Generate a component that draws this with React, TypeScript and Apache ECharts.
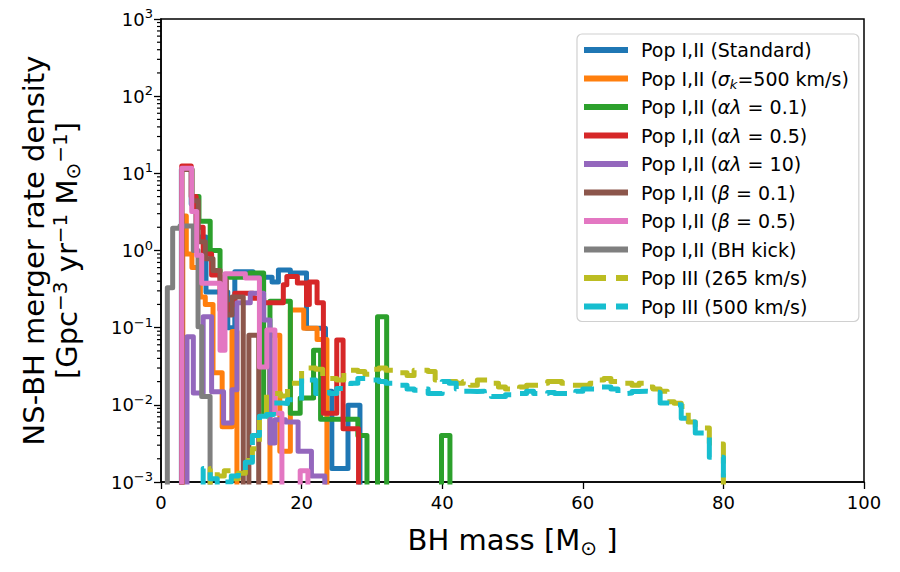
import React, { useEffect, useRef } from "react";
import * as echarts from "echarts";

const FONT = "'DejaVu Sans', sans-serif";
const FLOOR = 1e-6;

// ---- names / colours (legend order) ----
const seriesNames = [
  "Pop I,II (Standard)",
  "Pop I,II (sigma=500 km/s)",
  "Pop I,II (al=0.1)",
  "Pop I,II (al=0.5)",
  "Pop I,II (al=10)",
  "Pop I,II (beta=0.1)",
  "Pop I,II (beta=0.5)",
  "Pop I,II (BH kick)",
  "Pop III (265 km/s)",
  "Pop III (500 km/s)",
];
const legendLabels = [
  "Pop I,II (Standard)",
  "Pop I,II ({i|σ}{sub|k}=500 km/s)",
  "Pop I,II ({i|αλ} = 0.1)",
  "Pop I,II ({i|αλ} = 0.5)",
  "Pop I,II ({i|αλ} = 10)",
  "Pop I,II ({i|β} = 0.1)",
  "Pop I,II ({i|β} = 0.5)",
  "Pop I,II (BH kick)",
  "Pop III (265 km/s)",
  "Pop III (500 km/s)",
];
const colors = [
  "#1f77b4", "#ff7f0e", "#2ca02c", "#d62728", "#9467bd",
  "#8c564b", "#e377c2", "#7f7f7f", "#bcbd22", "#17becf",
];

// ---- histogram bin edges (BH mass, Msun) and heights (Gpc^-3 yr^-1 Msun^-1) ----
const standardEdges = [2.9, 4.3, 5.0, 6.4, 9.5, 10.5, 13.1, 15.8, 16.7, 18.4, 20.7, 23.4, 24.3, 26.6, 28.3];
const standardValues = [11.2, 4.0, 1.5, 0.29, 0.1, 0.53, 0.45, 0.39, 0.56, 0.51, 0.098, 0.015, 0.0015, 0.0099];

const sigmaEdges = [3.1, 3.6, 4.4, 5.6, 6.3, 7.4, 8.7, 10.1, 10.8, 15.5, 16.9, 18.4, 20.3, 22.2, 23.6];
const sigmaValues = [2.8, 0.9, 0.6, 0.25, 0.2, 0.026, 0.0052, 0.089, 0, 0.08, 0.0025, 0.17, 0.098, 0.07];

const alpha01Edges = [2.95, 4.4, 5.4, 7.0, 8.4, 12.6, 14.6, 15.5, 18.4, 19.8, 21.7, 22.7, 28.0, 29.3, 30.8, 32.1, 39.9, 41.1];
const alpha01Values = [11.2, 5.0, 2.4, 1.0, 0.45, 0.51, 0.0075, 0.22, 0.0078, 0.0123, 0.051, 0.0065, 0.004, 0, 0.139, 0, 0.004];

const alpha05Edges = [2.95, 4.3, 5.0, 6.0, 7.2, 8.4, 9.8, 10.5, 13.1, 14.6, 17.4, 17.9, 19.4, 20.7, 21.1, 22.2, 23.1, 25.0, 25.9, 28.1];
const alpha05Values = [12.4, 5.0, 2.0, 0.9, 0.48, 0.17, 0.2, 0.28, 0.24, 0.21, 0.36, 0.46, 0.38, 0.2, 0.39, 0.21, 0.0078, 0.069, 0.0049];

const alpha10Edges = [3.7, 4.6, 6.0, 7.2, 8.9, 10.1, 10.8, 12.7, 14.6, 15.5, 16.2, 17.7, 19.5, 21.4, 23.3];
const alpha10Values = [0.076, 0.0142, 0.139, 0.0148, 0.0058, 0.0157, 0.21, 0.28, 0.126, 0.0032, 0.0064, 0.006, 0.0025, 0.0012];

const beta01Edges = [2.95, 4.4, 5.3, 6.3, 7.4, 8.4, 9.3, 10.1, 11.7, 12.5, 13.9];
const beta01Values = [11.2, 4.4, 1.3, 0.78, 0.55, 0.41, 0.146, 0.25, 0, 0.08];

const beta05Edges = [2.95, 4.37, 5.08, 5.79, 8.4, 9.1, 12.0, 14.0, 15.05, 16.2, 17.2, 19.8, 20.9];
const beta05Values = [11.6, 3.2, 0.87, 0.375, 0.051, 0.5, 0.44, 0.031, 0.093, 0.0078, 0, 0.0014];

const kickEdges = [0.9, 1.66, 2.7, 4.6, 5.27, 5.79, 6.98];
const kickValues = [0.33, 1.94, 2.07, 1.0, 0.103, 0.0128];

// Pop III: 1 Msun bins
const popIII265Start = 7;
const popIII265Values = [
  0.0015, 0.0012, 0.0014, 0.0011, 0.0013, 0.0019, 0.0027, 0.0071, 0.014, 0.014,
  0.013, 0.019, 0.019, 0.030, 0.030, 0.029, 0.022, 0.022, 0.021, 0.026,
  0.028, 0.027, 0.025, 0.029, 0.030, 0.028, 0.026, 0.026, 0.024, 0.028,
  0.028, 0.027, 0.021, 0.020, 0.020, 0.019, 0.020, 0.018, 0.021, 0.021,
  0.019, 0.017, 0.016, 0.016, 0.017, 0.018, 0.018, 0.019, 0.020, 0.020,
  0.019, 0.018, 0.018, 0.018, 0.019, 0.021, 0.022, 0.020, 0.019, 0.019,
  0.018, 0.019, 0.017, 0.016, 0.015, 0.011, 0.0105, 0.0095, 0.0060, 0.0052,
  0.0050, 0.0032, 0.0031,
];
const popIII500Start = 6;
const popIII500Values = [
  0.0015, 0.0011, 0.0009, 0.0010, 0.0012, 0.0014, 0.0018, 0.0040, 0.0071, 0.0075,
  0.0106, 0.0104, 0.0116, 0.0113, 0.022, 0.021, 0.014, 0.0145, 0.014, 0.0163,
  0.0165, 0.019, 0.022, 0.022, 0.021, 0.020, 0.019, 0.019, 0.018, 0.016,
  0.0155, 0.016, 0.014, 0.014, 0.020, 0.019, 0.016, 0.015, 0.0149, 0.015,
  0.014, 0.0128, 0.0128, 0.0135, 0.014, 0.014, 0.015, 0.014, 0.014, 0.0145,
  0.014, 0.014, 0.0138, 0.015, 0.016, 0.016, 0.017, 0.017, 0.016, 0.014,
  0.0142, 0.0149, 0.015, 0.0148, 0.0145, 0.0106, 0.0104, 0.0100, 0.0067, 0.0060,
  0.0043, 0.0043, 0.0021, 0.0021,
];

const xTicks = { min: 0, max: 100, interval: 20 };
const yDecades = { min: 1e-3, max: 1e3 };
const minorMultipliers = [2, 3, 4, 5, 6, 7, 8, 9];
const minorDecades = [-3, -2, -1, 0, 1, 2];

function unitEdges(start: number, n: number) {
  const e: number[] = [];
  for (let i = 0; i <= n; i++) e.push(start + i);
  return e;
}

function stepOutline(edges: number[], values: number[]) {
  const pts: number[][] = [[edges[0], FLOOR]];
  values.forEach((v, i) => {
    const y = v > 0 ? v : FLOOR;
    pts.push([edges[i], y], [edges[i + 1], y]);
  });
  pts.push([edges[edges.length - 1], FLOOR]);
  return pts;
}

const histos: { idx: number; edges: number[]; values: number[]; dashed?: boolean }[] = [
  { idx: 0, edges: standardEdges, values: standardValues },
  { idx: 1, edges: sigmaEdges, values: sigmaValues },
  { idx: 2, edges: alpha01Edges, values: alpha01Values },
  { idx: 3, edges: alpha05Edges, values: alpha05Values },
  { idx: 4, edges: alpha10Edges, values: alpha10Values },
  { idx: 5, edges: beta01Edges, values: beta01Values },
  { idx: 7, edges: kickEdges, values: kickValues },
  { idx: 6, edges: beta05Edges, values: beta05Values },
  { idx: 8, edges: unitEdges(popIII265Start, popIII265Values.length), values: popIII265Values, dashed: true },
  { idx: 9, edges: unitEdges(popIII500Start, popIII500Values.length), values: popIII500Values, dashed: true },
];

export default function App() {
  const ref = useRef<HTMLDivElement>(null);
  useEffect(() => {
    if (!ref.current) return;
    const chart = echarts.init(ref.current, undefined, { renderer: "svg" });

    const minorData: number[][] = [];
    minorDecades.forEach((d) => minorMultipliers.forEach((m) => minorData.push([0, m * Math.pow(10, d)])));

    const series: any[] = histos.map((h) => ({
      name: seriesNames[h.idx],
      type: "line",
      data: stepOutline(h.edges, h.values),
      showSymbol: false,
      symbol: "none",
      clip: true,
      silent: true,
      lineStyle: {
        color: colors[h.idx],
        width: 5,
        type: h.dashed ? [22, 10] : "solid",
        join: "round",
        cap: "butt",
      },
      itemStyle: { color: colors[h.idx] },
    }));

    series.push({
      type: "custom",
      silent: true,
      clip: false,
      data: minorData,
      encode: { x: 0, y: 1 },
      renderItem: (params: any, api: any) => {
        const p = api.coord([0, api.value(1)]);
        return {
          type: "line",
          shape: { x1: p[0] - 4, y1: p[1], x2: p[0], y2: p[1] },
          style: { stroke: "#000", lineWidth: 1.2 },
        };
      },
    });

    const sup = (e: number) => (e < 0 ? "−" + -e : String(e));

    chart.setOption({
      animation: false,
      backgroundColor: "#fff",
      grid: {
        left: 161, right: 36, top: 19, bottom: 90,
        show: true, borderColor: "#000", borderWidth: 1.5, backgroundColor: "transparent",
      },
      legend: {
        data: seriesNames,
        orient: "vertical",
        left: 577,
        top: 34,
        itemWidth: 44,
        itemHeight: 10,
        itemGap: 4.5,
        selectedMode: false,
        backgroundColor: "#fff",
        borderColor: "#d0d0d0",
        borderWidth: 1.2,
        borderRadius: 5,
        padding: [4, 10, 3, 4],
        itemStyle: { opacity: 0, borderWidth: 0 },
        lineStyle: { width: 6 },
        formatter: (name: string) => legendLabels[seriesNames.indexOf(name)],
        textStyle: {
          fontFamily: FONT, fontSize: 19, color: "#000", lineHeight: 24,
          padding: [0, 0, 0, 8],
          rich: {
            i: { fontFamily: FONT, fontSize: 19, fontStyle: "italic", color: "#000", lineHeight: 24 },
            sub: { fontFamily: FONT, fontSize: 13, fontStyle: "italic", color: "#000", verticalAlign: "bottom", lineHeight: 20 },
          },
        },
      },
      xAxis: {
        type: "value",
        min: xTicks.min, max: xTicks.max, interval: xTicks.interval,
        splitLine: { show: false },
        axisLine: { show: true, lineStyle: { color: "#000", width: 1.5 } },
        axisTick: { show: true, inside: false, length: 7, lineStyle: { color: "#000", width: 1.3 } },
        axisLabel: { fontFamily: FONT, fontSize: 18, color: "#000", margin: 11 },
        name: "{t|BH mass [M}{sub|⊙}{t| ]}",
        nameLocation: "middle",
        nameGap: 40,
        nameTextStyle: {
          rich: {
            t: { fontFamily: FONT, fontSize: 29, color: "#000", lineHeight: 36 },
            sub: { fontFamily: FONT, fontSize: 20, color: "#000", verticalAlign: "bottom", lineHeight: 30 },
          },
        },
      },
      yAxis: {
        type: "log",
        logBase: 10,
        min: yDecades.min, max: yDecades.max,
        splitNumber: 6,
        splitLine: { show: false },
        axisLine: { show: true, lineStyle: { color: "#000", width: 1.5 } },
        axisTick: { show: true, inside: false, length: 7, lineStyle: { color: "#000", width: 1.3 } },
        minorTick: { show: false },
        axisLabel: {
          margin: 8,
          formatter: (v: number) => `{b|10}{s|${sup(Math.round(Math.log10(v)))}}`,
          rich: {
            b: { fontFamily: FONT, fontSize: 18, color: "#000", lineHeight: 24 },
            s: { fontFamily: FONT, fontSize: 13, color: "#000", verticalAlign: "top", lineHeight: 14 },
          },
        },
        name: "{t|NS-BH merger rate density}\n{t|[Gpc}{sup|−3}{t| yr}{sup|−1}{t| M}{sub|⊙}{sup|−1}{t|]}",
        nameLocation: "middle",
        nameRotate: 90,
        nameGap: 78,
        nameTextStyle: {
          align: "center",
          rich: {
            t: { fontFamily: FONT, fontSize: 29, color: "#000", lineHeight: 33, align: "center" },
            sup: { fontFamily: FONT, fontSize: 20, color: "#000", verticalAlign: "top", lineHeight: 22 },
            sub: { fontFamily: FONT, fontSize: 20, color: "#000", verticalAlign: "bottom", lineHeight: 22 },
          },
        },
      },
      series,
    });
    return () => chart.dispose();
  }, []);

  return (
    <div
      ref={ref}
      style={{ position: "fixed", left: 0, top: 0, width: 900, height: 572, background: "#fff" }}
    />
  );
}
